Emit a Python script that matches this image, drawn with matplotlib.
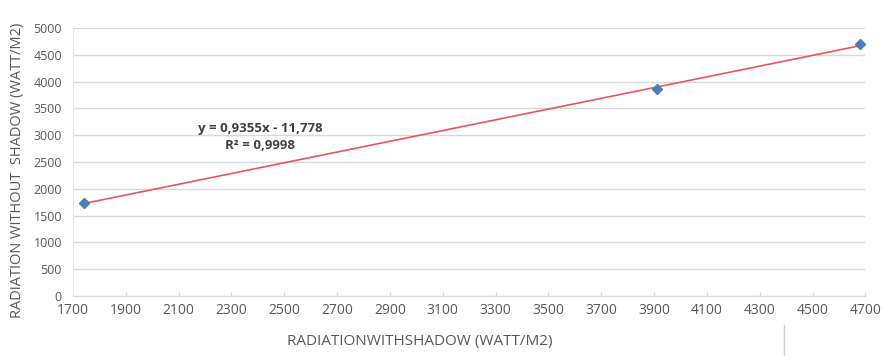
import matplotlib
matplotlib.use("Agg")
import matplotlib.pyplot as plt
import numpy as np
from matplotlib.lines import Line2D

plt.rcParams['font.family'] = ['Open Sans', 'DejaVu Sans']

x_with_shadow = [1742, 3913, 4678]
y_without_shadow = [1738, 3862, 4700]
x_ticks = list(range(1700, 4701, 200))
y_ticks = list(range(0, 5001, 500))
equation_text = "y = 0,9355x - 11,778"
r2_text = "R² = 0,9998"

fig = plt.figure(figsize=(8.83, 3.56), dpi=100)
ax = fig.add_axes([0.0827, 0.1685, 0.8973, 0.7525])

grey = '#595959'
ax.set_xlim(1700, 4700)
ax.set_ylim(0, 5000)
ax.set_xticks(x_ticks)
ax.set_yticks(y_ticks)
ax.yaxis.grid(True, color='#D9D9D9', lw=1.0)
ax.set_axisbelow(True)
for s in ['top', 'right']:
    ax.spines[s].set_visible(False)
ax.spines['left'].set_color('#E6E6E6')
ax.spines['bottom'].set_color('#D9D9D9')
ax.tick_params(axis='y', length=0, labelsize=9, labelcolor=grey, pad=8)
ax.tick_params(axis='x', length=3, direction='in', color='#D9D9D9', labelsize=10, labelcolor=grey, pad=5)

# trendline
coef = np.polyfit(x_with_shadow, y_without_shadow, 1)
xl = np.array([min(x_with_shadow), max(x_with_shadow)])
ax.plot(xl, np.polyval(coef, xl), color='#E8555A', lw=1.2, zorder=2)
ax.plot(x_with_shadow, y_without_shadow, 'D', color='#4A7EBB', ms=5, zorder=3)

ax.text(0.236, 0.627, equation_text, transform=ax.transAxes, ha='center', va='center',
        fontsize=9.5, color='#404040', fontweight='bold')
ax.text(0.236, 0.56, r2_text, transform=ax.transAxes, ha='center', va='center',
        fontsize=9.5, color='#404040', fontweight='bold')

fig.text(420/883, 1-341/356, "RADIATIONWITHSHADOW (WATT/M2)", fontsize=11, color=grey,
         ha='center', va='center')
fig.text(18/883, 1-170/356, "RADIATION WITHOUT  SHADOW (WATT/M2)", fontsize=10.5, color=grey,
         ha='center', va='center', rotation=90)

fig.add_artist(Line2D([784/883, 784/883], [0, 1-325/356], transform=fig.transFigure,
                      color='#D0D0D0', lw=1))

fig.savefig("out.png", dpi=100)
